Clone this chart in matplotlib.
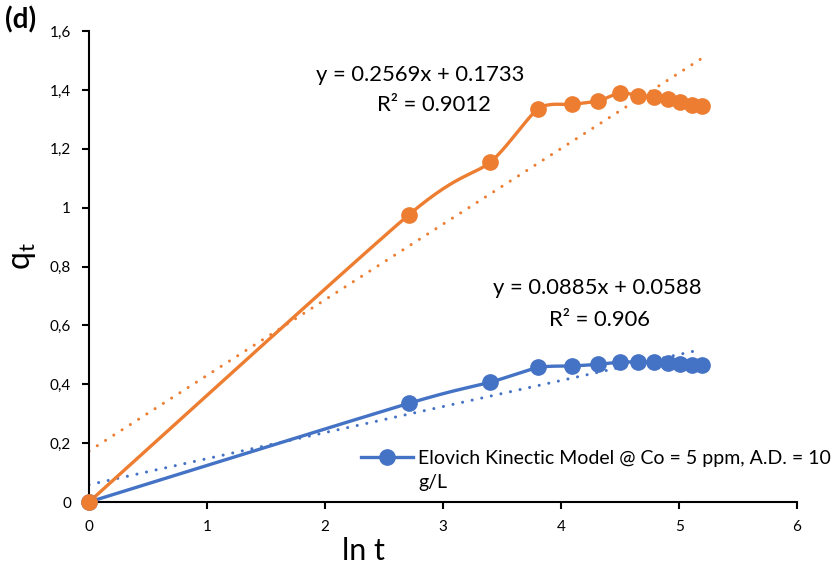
import numpy as np
import matplotlib
matplotlib.use("Agg")
import matplotlib.pyplot as plt
from matplotlib.ticker import FixedLocator, FuncFormatter

plt.rcParams['font.family'] = ['Lato', 'DejaVu Sans']

# ln(t) for t = 1, 15, 30, ... 180 min
ln_t = [0.0, 2.708, 3.401, 3.807, 4.094, 4.317, 4.500, 4.654, 4.787, 4.905, 5.011, 5.106, 5.193]
qt_orange = [0.0, 0.975, 1.155, 1.336, 1.351, 1.363, 1.390, 1.381, 1.377, 1.368, 1.359, 1.350, 1.345]
qt_blue = [0.0, 0.335, 0.407, 0.457, 0.462, 0.468, 0.4755, 0.4755, 0.4755, 0.473, 0.468, 0.467, 0.466]

fit_orange = (0.2569, 0.1733, 0.9012)
fit_blue = (0.0885, 0.0588, 0.906)

legend_label = "Elovich Kinectic Model @ Co = 5 ppm, A.D. = 10"
legend_label_cont = "g/L"
y_ticks = [0, 0.2, 0.4, 0.6, 0.8, 1.0, 1.2, 1.4, 1.6]
x_ticks = [0, 1, 2, 3, 4, 5, 6]

ORANGE = '#ED7D31'
BLUE = '#4472C4'


def smooth(x, y, n=30, k=1 / 8.0):
    """Bezier smoothing through the points (spreadsheet-style smoothed line)."""
    x = np.asarray(x, float)
    y = np.asarray(y, float)
    px = np.concatenate([[x[0]], x, [x[-1]]])
    py = np.concatenate([[y[0]], y, [y[-1]]])
    xs, ys = [], []
    for i in range(len(x) - 1):
        p0 = np.array([px[i], py[i]])
        p1 = np.array([px[i + 1], py[i + 1]])
        p2 = np.array([px[i + 2], py[i + 2]])
        p3 = np.array([px[i + 3], py[i + 3]])
        c1 = p1 + (p2 - p0) * k
        c2 = p2 - (p3 - p1) * k
        t = np.linspace(0, 1, n)[:, None]
        b = ((1 - t) ** 3) * p1 + 3 * ((1 - t) ** 2) * t * c1 + 3 * (1 - t) * t ** 2 * c2 + t ** 3 * p2
        xs.append(b[:, 0])
        ys.append(b[:, 1])
    return np.concatenate(xs), np.concatenate(ys)


fig = plt.figure(figsize=(8.32, 5.65), dpi=100)
ax = fig.add_axes([0.107, 0.1115, 0.851, 0.8335])

xr = np.array([0, max(ln_t)])
dot = dict(linestyle=(0, (0.01, 3.2)), dash_capstyle='round', lw=2.2)
ax.plot(xr, fit_orange[0] * xr + fit_orange[1], color=ORANGE, **dot, zorder=2)
ax.plot(xr, fit_blue[0] * xr + fit_blue[1], color=BLUE, **dot, zorder=2)

sx, sy = smooth(ln_t, qt_blue)
ax.plot(sx, sy, color=BLUE, lw=2.4, zorder=3, solid_capstyle='round')
ax.plot(ln_t, qt_blue, 'o', color=BLUE, ms=11, zorder=4, clip_on=False)
sx, sy = smooth(ln_t, qt_orange)
ax.plot(sx, sy, color=ORANGE, lw=2.4, zorder=3.5, solid_capstyle='round')
ax.plot(ln_t, qt_orange, 'o', color=ORANGE, ms=11, zorder=4.5, clip_on=False)

# legend entry for the blue series only; its label wraps onto a second line
ax.plot([], [], '-o', color=BLUE, lw=2.4, ms=11, label=legend_label)
leg = ax.legend(loc='center left', bbox_to_anchor=(0.3835, 0.092), frameon=False,
                fontsize=14, handlelength=2.7, handletextpad=0.25, borderaxespad=0.0,
                borderpad=0.0)
ax.annotate(legend_label_cont, xy=(0, 0), xycoords=leg.get_texts()[0],
            xytext=(0, -5), textcoords='offset points', fontsize=14,
            ha='left', va='top', zorder=10, annotation_clip=False)

ax.set_xlim(0, 6)
ax.set_ylim(0, 1.6)
ax.xaxis.set_major_locator(FixedLocator(x_ticks))
ax.yaxis.set_major_locator(FixedLocator(y_ticks))
ax.yaxis.set_major_formatter(FuncFormatter(lambda v, p: (f"{v:.1f}".rstrip('0').rstrip('.')).replace('.', ',')))
ax.tick_params(axis='both', direction='out', length=5, width=1.5, labelsize=11, colors='black')
ax.tick_params(axis='x', pad=8)
ax.tick_params(axis='y', pad=8)
for s in ('top', 'right'):
    ax.spines[s].set_visible(False)
for s in ('left', 'bottom'):
    ax.spines[s].set_linewidth(1.5)

ax.set_xlabel('ln t', fontsize=22)
ax.xaxis.set_label_coords(0.388, -0.075)
ax.set_ylabel(r'q$_\mathregular{t}$', fontsize=23)
ax.yaxis.set_label_coords(-0.072, 0.522)

fs = 15.8
ax.text(2.805, 1.450, f"y = {fit_orange[0]}x + {fit_orange[1]}", fontsize=fs, ha='center', va='center')
ax.text(2.92, 1.348, f"R² = {fit_orange[2]}", fontsize=fs, ha='center', va='center')
ax.text(4.31, 0.727, f"y = {fit_blue[0]}x + {fit_blue[1]}", fontsize=fs, ha='center', va='center')
ax.text(4.33, 0.618, f"R² = {fit_blue[2]}", fontsize=fs, ha='center', va='center')

fig.text(0.006, 0.965, '(d)', fontsize=20, fontweight='bold', va='center', ha='left')

fig.savefig('out.png', dpi=100)
